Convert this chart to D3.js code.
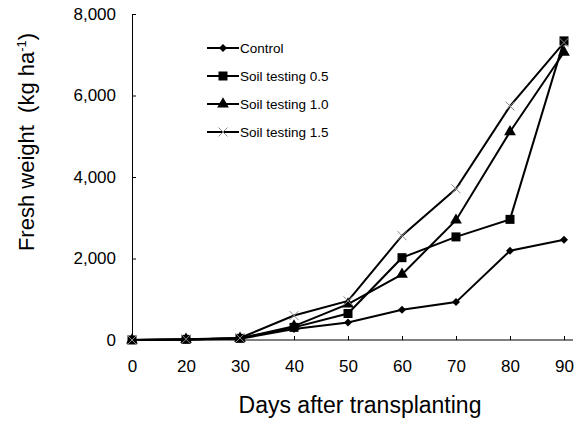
<!DOCTYPE html>
<html>
<head>
<meta charset="utf-8">
<script src="https://cdn.jsdelivr.net/npm/d3@7"></script>
<style>
  body { margin: 0; background: #fff; }
  text { font-family: "Liberation Sans", Arial, sans-serif; }
</style>
</head>
<body>
<div id="chart"></div>
<script>
// Data
var days = ["0", "20", "30", "40", "50", "60", "70", "80", "90"];
var control = [0, 10, 30, 270, 430, 740, 930, 2190, 2460];
var soil05 = [0, 15, 40, 310, 650, 2020, 2530, 2960, 7340];
var soil10 = [0, 15, 40, 340, 880, 1610, 2940, 5110, 7060];
var soil15 = [0, 20, 50, 600, 960, 2560, 3710, 5740, 7300];
var yTicks = [0, 2000, 4000, 6000, 8000];

var seriesNames = ["Control", "Soil testing 0.5", "Soil testing 1.0", "Soil testing 1.5"];
var seriesValues = [control, soil05, soil10, soil15];
var markers = ["diamond", "square", "triangle", "cross"];

var width = 581, height = 425;

var svg = d3.select("#chart")
            .append("svg")
            .attr("width", width)
            .attr("height", height);

var xScale = d3.scalePoint()
               .domain(days)
               .range([132, 564]);

var yScale = d3.scaleLinear()
               .domain([0, 8000])
               .range([340, 14]);

// Axes, ticks drawn inward
var yAxis = d3.axisLeft(yScale)
              .tickValues(yTicks)
              .tickSizeInner(-4)
              .tickSizeOuter(0)
              .tickPadding(16)
              .tickFormat(d3.format(","));

var xAxis = d3.axisBottom(xScale)
              .tickSizeInner(-4)
              .tickSizeOuter(0)
              .tickPadding(20);

var gy = svg.append("g")
   .attr("class", "y-axis")
   .attr("transform", "translate(132,0)")
   .call(yAxis);

var gx = svg.append("g")
   .attr("class", "x-axis")
   .attr("transform", "translate(0,340)")
   .call(xAxis);

// extend the x axis line a little past the last category like the original
gx.select(".domain").attr("d", "M132,0H573");

svg.selectAll(".domain, .tick line").attr("stroke", "#000").attr("stroke-width", 1);
svg.selectAll(".tick text")
   .attr("font-size", 17)
   .attr("fill", "#000")
   .style("font-family", "Liberation Sans, Arial, sans-serif");
gx.selectAll(".tick line").filter(function(d) { return d === "0"; }).remove();

// Lines
var line = d3.line()
             .x(function(d, i) { return xScale(days[i]); })
             .y(function(d) { return yScale(d); });

seriesValues.forEach(function(vals) {
  svg.append("path")
     .datum(vals)
     .attr("fill", "none")
     .attr("stroke", "#000")
     .attr("stroke-width", 2)
     .attr("d", line);
});

function drawMarker(g, type, x, y) {
  if (type === "cross") {
    var s = 4.5;
    g.append("path")
     .attr("d", "M" + (x - s) + "," + (y - s) + "L" + (x + s) + "," + (y + s) +
                "M" + (x - s) + "," + (y + s) + "L" + (x + s) + "," + (y - s))
     .attr("stroke", "#888")
     .attr("stroke-width", 1);
  } else if (type === "diamond") {
    var r = 4;
    g.append("path")
     .attr("d", "M" + x + "," + (y - r) + "L" + (x + r) + "," + y + "L" + x + "," + (y + r) +
                "L" + (x - r) + "," + y + "Z")
     .attr("fill", "#000");
  } else {
    var sym = type === "square" ? d3.symbolSquare : d3.symbolTriangle;
    var size = type === "square" ? 81 : 60;
    g.append("path")
     .attr("d", d3.symbol().type(sym).size(size)())
     .attr("transform", "translate(" + x + "," + y + ")")
     .attr("fill", "#000");
  }
}

var markerG = svg.append("g").attr("id", "markers");
seriesValues.forEach(function(vals, k) {
  vals.forEach(function(v, i) {
    drawMarker(markerG, markers[k], xScale(days[i]), yScale(v));
  });
});

// Legend
var legend = svg.append("g").attr("id", "legend");
seriesNames.forEach(function(name, k) {
  var ly = 48 + k * 28;
  legend.append("line")
        .attr("x1", 207).attr("x2", 239)
        .attr("y1", ly).attr("y2", ly)
        .attr("stroke", "#000")
        .attr("stroke-width", 2);
  drawMarker(legend, markers[k], 223, ly);
  legend.append("text")
        .attr("x", 240)
        .attr("y", ly + 5)
        .attr("font-size", 13.5)
        .text(name);
});

// Axis titles
var yTitle = svg.append("text")
   .attr("transform", "translate(34,142) rotate(-90)")
   .attr("text-anchor", "middle")
   .attr("font-size", 22)
   .attr("xml:space", "preserve")
   .style("white-space", "pre");
yTitle.append("tspan").text("Fresh weight  (kg ha");
yTitle.append("tspan")
      .attr("dy", -8)
      .attr("font-size", 13)
      .text("-1");
yTitle.append("tspan")
      .attr("dy", 8)
      .text(")");

svg.append("text")
   .attr("x", 360)
   .attr("y", 413)
   .attr("text-anchor", "middle")
   .attr("font-size", 23)
   .text("Days after transplanting");
</script>
</body>
</html>
